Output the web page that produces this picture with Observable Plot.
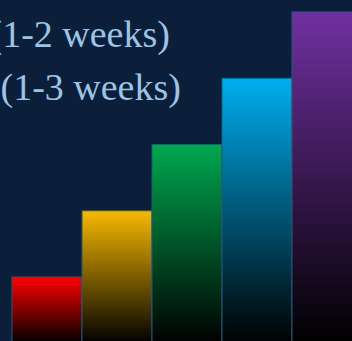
<!DOCTYPE html>
<html><head><meta charset="utf-8">
<script src="https://cdn.jsdelivr.net/npm/d3@7"></script>
<script src="https://cdn.jsdelivr.net/npm/@observablehq/plot@0.6"></script>
<style>
html,body{margin:0;padding:0;background:#0b1f3a;overflow:hidden;}
</style>
</head><body>
<div id="chart"></div>
<script>
const categories = ["A", "B", "C", "D", "E"];
const values = [1, 2, 3, 4, 5];
const topColors = ["#ff0000", "#f7b900", "#00a84f", "#00aeef", "#7030a0"];
const labels = ["(1-2 weeks)", "(1-3 weeks)"];

const data = categories.map((c, i) => ({cat: c, value: values[i], grad: `url(#grad${i})`}));
const notes = labels.map((t, i) => ({text: t, i}));

const chart = Plot.plot({
  width: 352,
  height: 341,
  margin: 0,
  style: {background: "#0b1f3a", overflow: "hidden"},
  x: {domain: categories, range: [11, 363.5], padding: 0, axis: null},
  y: {domain: [0, 5], range: [343.25, 12], axis: null},
  color: {type: "identity"},
  marks: [
    Plot.barY(data, {x: "cat", y: "value", fill: "grad", stroke: "#24587a", strokeWidth: 1}),
    Plot.text(notes.slice(0,1), {text: "text", frameAnchor: "top-left", textAnchor: "start", lineAnchor: "bottom", dx: -11, dy: 46, fill: "#9dc3e6", fontSize: 38, fontFamily: "Liberation Serif"}),
    Plot.text(notes.slice(1,2), {text: "text", frameAnchor: "top-left", textAnchor: "start", lineAnchor: "bottom", dx: 0, dy: 99, fill: "#9dc3e6", fontSize: 38, fontFamily: "Liberation Serif"})
  ]
});

const svg = d3.select(chart);
const defs = svg.insert("defs", ":first-child");
topColors.forEach((c, i) => {
  const g = defs.append("linearGradient").attr("id", `grad${i}`).attr("x1", 0).attr("y1", 0).attr("x2", 0).attr("y2", 1);
  g.append("stop").attr("offset", "0%").attr("stop-color", c);
  g.append("stop").attr("offset", "100%").attr("stop-color", "#000000");
});
document.getElementById("chart").appendChild(chart);
</script>
</body></html>
